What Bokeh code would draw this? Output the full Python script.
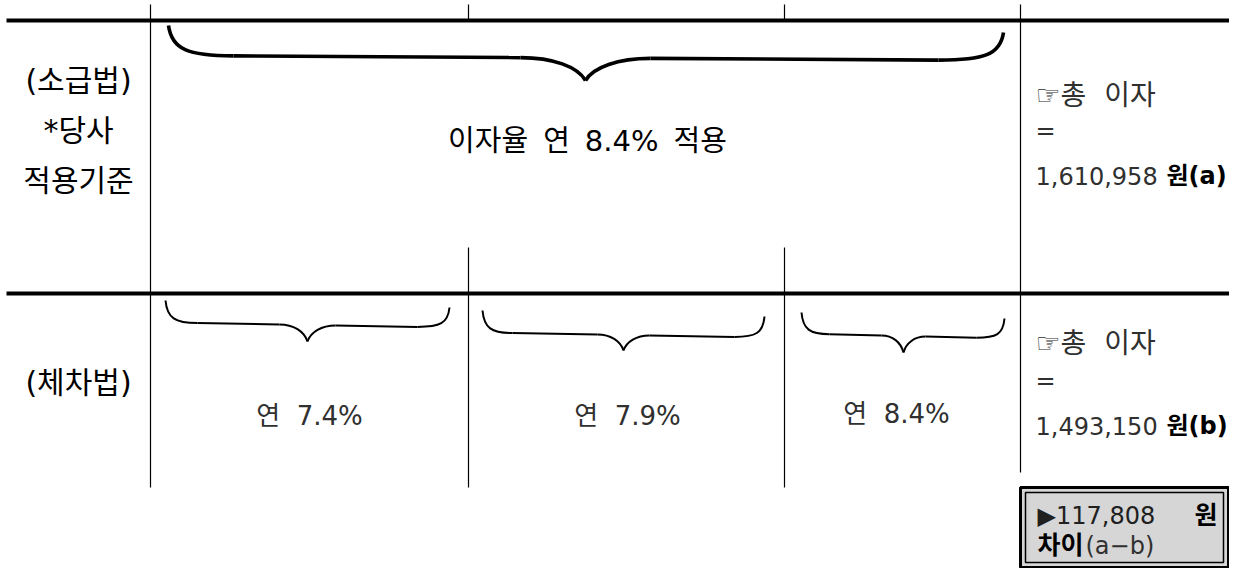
from bokeh.plotting import figure
from bokeh.models import Range1d
from bokeh.core.properties import value
from bokeh.embed import file_html
from bokeh.resources import INLINE

# ---------------- data ----------------
retro_label = ["(소급법)", "*당사", "적용기준"]
tier_label = ["(체차법)"]
flat_rate = 8.4
tier_rates = [7.4, 7.9, 8.4]
total_interest = [1610958, 1493150]      # (a), (b)
total_suffix = ["원(a)", "원(b)"]
difference = 117808

# ---------------- layout (pixel coords) ----------------
FONT = value("DejaVu Sans, Noto Sans CJK KR")
SP = "\u00a0"
W, H = 1229, 568

p = figure(width=W, height=H, output_backend="svg", toolbar_location=None,
           x_range=Range1d(0, W), y_range=Range1d(H, 0),
           min_border=0, background_fill_color="white", border_fill_color="white")
p.axis.visible = False
p.grid.visible = False
p.outline_line_color = None

# thick horizontal rules
p.segment(x0=[6, 6], y0=[20, 293], x1=[1250, 1250], y1=[20, 293],
          line_color="black", line_width=4)
# thin vertical rules
vx0 = [150, 468, 784, 1020, 468, 784]
vy0 = [4, 4, 4, 4, 247, 247]
vy1 = [487, 20, 20, 472, 487, 487]
p.segment(x0=vx0, y0=vy0, x1=vx0, y1=vy1, line_color="black", line_width=1.2)


def brace(xl, xr, xm, ylt, ylf, yrt, yrf, ytip, r, s, lw):
    def yflat(x):
        return ylf + (yrf - ylf) * (x - xl) / (xr - xl)
    a = xm - s
    b = xm + s
    ya, yb = yflat(a), yflat(b)
    bx = dict(x0=[], y0=[], x1=[], y1=[], cx0=[], cy0=[], cx1=[], cy1=[])

    def add(x0, y0, x1, y1, cx0, cy0, cx1, cy1):
        for k, v in zip(["x0", "y0", "x1", "y1", "cx0", "cy0", "cx1", "cy1"],
                        [x0, y0, x1, y1, cx0, cy0, cx1, cy1]):
            bx[k].append(v)
    # left curl
    add(xl, ylt, xl + r, yflat(xl + r), xl + 0.05 * r, ylt + 0.8 * (ylf - ylt),
        xl + 0.3 * r, yflat(xl + r))
    # tip left
    add(a, ya, xm, ytip, xm - 0.5 * s, ya, xm - 0.12 * s, ytip - 0.6 * (ytip - ya))
    # tip right
    add(b, yb, xm, ytip, xm + 0.5 * s, yb, xm + 0.12 * s, ytip - 0.6 * (ytip - yb))
    # right curl
    add(xr, yrt, xr - r, yflat(xr - r), xr - 0.05 * r, yrt + 0.8 * (yrf - yrt),
        xr - 0.3 * r, yflat(xr - r))
    p.bezier(line_color="black", line_width=lw, **bx)
    p.segment(x0=[xl + r, b], y0=[yflat(xl + r), yb], x1=[a, xr - r], y1=[ya, yflat(xr - r)],
              line_color="black", line_width=lw)


brace(168, 1003, 585, 25, 55, 32, 60, 80, 65, 65, 3.6)
brace(165, 449, 307, 300, 322, 307, 327, 341, 32, 28, 2)
brace(482, 764, 623, 310, 332, 316, 337, 350, 30, 26, 2)
brace(801, 1004, 903, 312, 333, 318, 338, 352, 28, 22, 2)

# left labels
p.text(x=[78, 78, 78], y=[80, 130, 180], text=retro_label, text_font=FONT,
       text_font_size="30px", text_align="center", text_baseline="middle", text_color="black")
p.text(x=[78], y=[382], text=tier_label, text_font=FONT,
       text_font_size="30px", text_align="center", text_baseline="middle", text_color="black")

# center
GAP = SP + "\u2009"
center_txt = f"이자율{GAP}연{GAP}{flat_rate}%{GAP}적용"
p.text(x=[587], y=[140], text=[center_txt], text_font=FONT,
       text_font_size="29px", text_align="center", text_baseline="middle", text_color="black")
p.text(x=[309, 627, 896], y=[415, 415, 413], text=[f"연{SP*2}{r}%" for r in tier_rates],
       text_font=FONT, text_font_size="26px", text_align="center", text_baseline="middle",
       text_color="#303030")

# right totals
p.text(x=[1035, 1035], y=[95, 343], text=[f"☞총{SP*2}이자"] * 2, text_font=FONT,
       text_font_size="28px", text_align="left", text_baseline="middle", text_color="#303030")
p.text(x=[1035, 1035], y=[130, 380], text=["=", "="], text_font=FONT,
       text_font_size="24px", text_align="left", text_baseline="middle", text_color="#303030")
p.text(x=[1035, 1035], y=[175, 425], text=[f"{v:,}" for v in total_interest], text_font=FONT,
       text_font_size="24px", text_align="left", text_baseline="middle", text_color="#303030")
p.text(x=[1166, 1166], y=[175, 425], text=total_suffix, text_font=FONT, text_font_style="bold",
       text_font_size="24px", text_align="left", text_baseline="middle", text_color="black")

# difference box
p.quad(left=[1020], right=[1228], top=[487], bottom=[567], fill_color="#d6d6d6",
       line_color="black", line_width=3)
p.quad(left=[1025], right=[1223], top=[492], bottom=[562], fill_color=None,
       line_color="black", line_width=1.5)
p.text(x=[1037], y=[515], text=[f"▶{difference:,}"], text_font=FONT, text_font_size="24px",
       text_align="left", text_baseline="middle", text_color="#202020")
p.text(x=[1217], y=[515], text=["원"], text_font=FONT, text_font_size="25px", text_font_style="bold",
       text_align="right", text_baseline="middle", text_color="black")
p.text(x=[1037], y=[545], text=["차이"], text_font=FONT, text_font_size="25px", text_font_style="bold",
       text_align="left", text_baseline="middle", text_color="black")
p.text(x=[1085], y=[545], text=["(a−b)"], text_font=FONT, text_font_size="24px",
       text_align="left", text_baseline="middle", text_color="#303030")

open("out.html", "w").write(file_html(p, INLINE))
